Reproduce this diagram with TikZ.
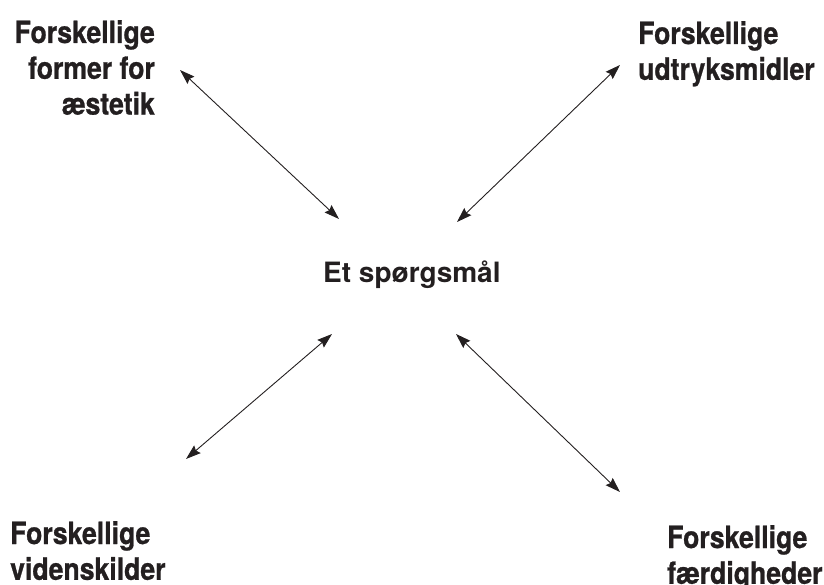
\documentclass[tikz,border=0pt]{standalone}
\usepackage{fontspec}
\setmainfont{TeX Gyre Heros}
\newfontfamily\condfont{TeX Gyre Heros}[FakeStretch=0.87,FakeBold=0.8]
\usetikzlibrary{arrows.meta}
\definecolor{ink}{HTML}{231F20}
\tikzset{
  corner/.style={inner sep=0pt, text=ink, font=\condfont\bfseries\fontsize{30.6}{35.8}\selectfont},
  centre/.style={inner sep=0pt, text=ink, font=\bfseries\fontsize{28}{32}\selectfont},
  link/.style={draw=ink, line width=0.9pt, {Stealth[length=15pt,width=10pt,inset=2pt]}-{Stealth[length=15pt,width=10pt,inset=2pt]}}
}
\begin{document}
\begin{tikzpicture}[x=1pt,y=-1pt]
\useasboundingbox (0,0) rectangle (824,585);
\node[corner, anchor=north east, align=right] (tl) at (155,20) {Forskellige\\former for\\æstetik};
\node[corner, anchor=north west, align=left] (tr) at (638,21) {Forskellige\\udtryksmidler};
\node[corner, anchor=north west, align=left] (bl) at (10,521) {Forskellige\\videnskilder};
\node[corner, anchor=north west, align=left] (br) at (667,525) {Forskellige\\færdigheder};
\node[centre, anchor=base west] (q) at (323,283) {Et spørgsmål};
\coordinate (a1) at (180,70);
\coordinate (b1) at (339,219);
\coordinate (a2) at (620,65);
\coordinate (b2) at (457,222);
\coordinate (a3) at (186,459);
\coordinate (b3) at (332,334);
\coordinate (a4) at (620,492);
\coordinate (b4) at (456,334);
\draw[link] (a1) -- (b1);
\draw[link] (a2) -- (b2);
\draw[link] (a3) -- (b3);
\draw[link] (a4) -- (b4);
\end{tikzpicture}
\end{document}
